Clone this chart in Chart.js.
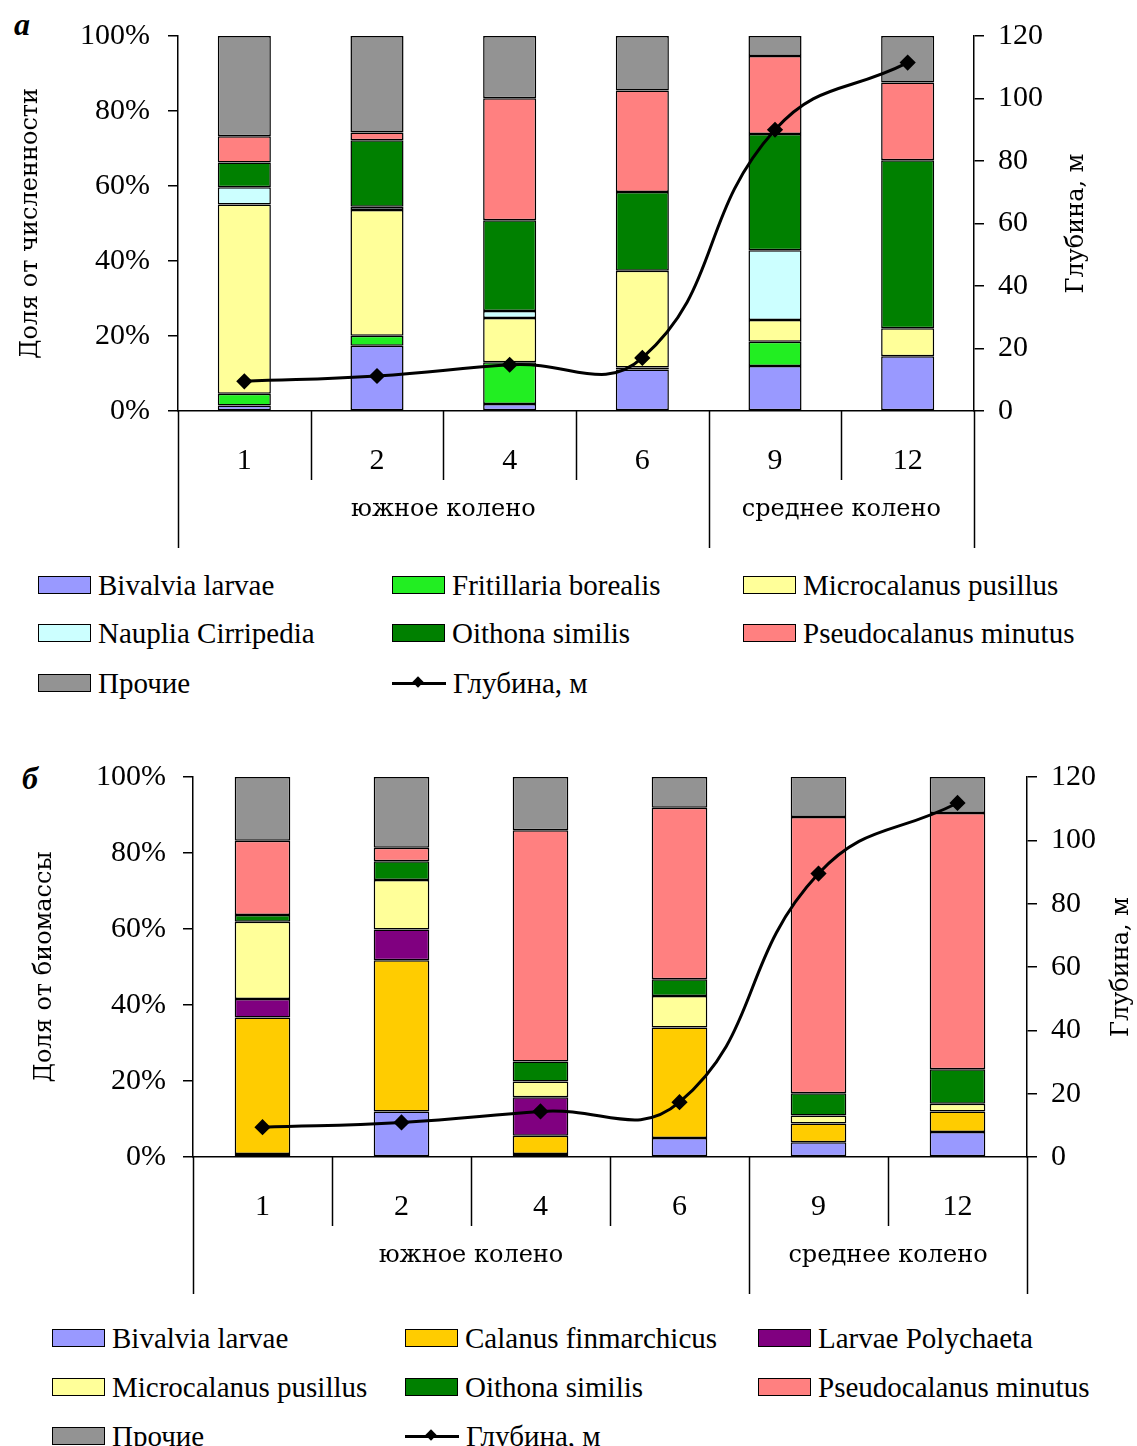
<!DOCTYPE html>
<html>
<head>
<meta charset="utf-8">
<script src="https://cdn.jsdelivr.net/npm/chart.js@4.4.1/dist/chart.umd.min.js"></script>
<style>
  html, body { margin: 0; padding: 0; background: #fff; }
  body { width: 1137px; height: 1446px; position: relative; overflow: hidden; font-family: "Liberation Serif", serif; }
  canvas { position: absolute; left: 0; }
  .panel { position: absolute; font: italic bold 32px "Liberation Serif", serif; color: #000; line-height: 1; }
  .leg { position: absolute; left: 0; top: 0; width: 1137px; height: 0; }
  .item { position: absolute; height: 30px; display: flex; align-items: center; white-space: nowrap;
          font: 29px "Liberation Serif", serif; color: #000; }
  .sw { width: 51px; height: 16px; border: 1.5px solid #000; margin-right: 7px; flex: none; }
  .ln { width: 54px; height: 16px; margin-right: 7px; position: relative; flex: none; }
  .ln::before { content: ""; position: absolute; left: 0; right: 0; top: 7px; height: 3px; background: #000; }
  .ln::after { content: ""; position: absolute; left: 22px; top: 3px; width: 8px; height: 8px; background: #000; transform: rotate(45deg); }
</style>
</head>
<body>
<div class="panel" style="left:14px;top:8px;">а</div>
<canvas id="c1" width="1137" height="560" style="top:0px"></canvas>
<div class="leg" id="lg1"></div>
<div class="panel" style="left:22px;top:762px;">б</div>
<canvas id="c2" width="1137" height="570" style="top:740px"></canvas>
<div class="leg" id="lg2"></div>
<script>
// ---------- DATA ----------
const stations = ['1', '2', '4', '6', '9', '12'];
const groupNames = ['южное колено', 'среднее колено'];
const groupSizes = [4, 2];
const pctTicks = [0, 20, 40, 60, 80, 100];
const depthTicks = [0, 20, 40, 60, 80, 100, 120];

// panel а: доля от численности, %
const bivalviaA      = [1.5, 17.4, 1.9, 11.1, 12.0, 14.6];
const fritillariaA   = [3.1, 2.7, 11.1, 0.5, 6.5, 0];
const microcalanusA  = [50.5, 33.5, 11.8, 25.8, 5.8, 7.5];
const naupliaA       = [4.6, 0.9, 1.9, 0, 18.6, 0];
const oithonaA       = [6.6, 17.7, 24.2, 21.0, 31.0, 44.8];
const pseudocalanusA = [7.0, 2.1, 32.5, 27.1, 20.8, 20.7];
const otherA         = [26.7, 25.7, 16.6, 14.5, 5.3, 12.4];
const depthA         = [9.5, 11.2, 14.8, 17.0, 90.0, 111.5];

// panel б: доля от биомассы, %
const bivalviaB      = [0.8, 12.0, 0.8, 5.0, 3.9, 6.6];
const calanusB       = [35.9, 39.8, 4.8, 29.1, 4.9, 5.4];
const polychaetaB    = [4.9, 8.1, 10.1, 0, 0, 0];
const microcalanusB  = [20.3, 13.0, 4.2, 8.3, 2.1, 2.0];
const oithonaB       = [1.8, 4.9, 5.2, 4.4, 5.9, 9.1];
const pseudocalanusB = [19.5, 3.6, 60.9, 45.1, 72.7, 67.4];
const otherB         = [16.8, 18.6, 14.0, 8.1, 10.6, 9.5];
const depthB         = [9.4, 10.9, 14.4, 17.3, 89.5, 111.8];

const depthLabel = 'Глубина, м';

// ---------- STYLES ----------
const C = {
  bivalvia: '#9999FF', fritillaria: '#22EE22', microcalanus: '#FFFF99', nauplia: '#CCFFFF',
  oithona: '#008000', pseudocalanus: '#FF8080', other: '#939393', calanus: '#FFCC00', polychaeta: '#800080'
};
const TITLE_FONT = '24px "DejaVu Serif", serif';

Chart.defaults.font.family = '"Liberation Serif", serif';
Chart.defaults.color = '#000';

function barDS(label, data, color) {
  return { type: 'bar', label, data, backgroundColor: color, borderColor: '#000', borderWidth: 1.5,
           borderSkipped: false, stack: 's', yAxisID: 'y', order: 1,
           barPercentage: 0.4, categoryPercentage: 1.0 };
}
function lineDS(data) {
  return { type: 'line', label: depthLabel, data, yAxisID: 'y1', borderColor: '#000', borderWidth: 3,
           tension: 0.45, pointStyle: 'rectRot', pointRadius: 6, pointBackgroundColor: '#000',
           pointBorderColor: '#000', fill: false, order: 0 };
}

function decorPlugin(L) {
  return {
    id: 'decor',
    afterDraw(chart) {
      const ctx = chart.ctx, x = chart.scales.x, a = chart.chartArea;
      const n = stations.length;
      const step = x.getPixelForValue(1) - x.getPixelForValue(0);
      const bounds = [];
      for (let i = 0; i < n; i++) bounds.push(x.getPixelForValue(i) - step / 2);
      bounds.push(x.getPixelForValue(n - 1) + step / 2);
      const groupEdges = [0];
      groupSizes.forEach(s => groupEdges.push(groupEdges[groupEdges.length - 1] + s));
      ctx.save();
      ctx.strokeStyle = '#000';
      ctx.lineWidth = 1.5;
      bounds.forEach((px, i) => {
        const long = groupEdges.includes(i);
        ctx.beginPath();
        ctx.moveTo(Math.round(px) + 0.5, a.bottom);
        ctx.lineTo(Math.round(px) + 0.5, a.bottom + (long ? 137 : 69));
        ctx.stroke();
      });
      ctx.fillStyle = '#000';
      ctx.textAlign = 'center';
      ctx.textBaseline = 'middle';
      ctx.font = TITLE_FONT;
      groupNames.forEach((g, k) => {
        const cx = (bounds[groupEdges[k]] + bounds[groupEdges[k + 1]]) / 2;
        ctx.fillText(g, cx, a.bottom + 99);
      });
      const cy = (a.top + a.bottom) / 2;
      [[L.leftTitleX, L.leftTitle], [L.rightTitleX, depthLabel]].forEach(([tx, t]) => {
        ctx.save();
        ctx.translate(tx, cy);
        ctx.rotate(-Math.PI / 2);
        ctx.fillText(t, 0, 0);
        ctx.restore();
      });
      ctx.restore();
    }
  };
}

function makeChart(id, datasets, L) {
  return new Chart(document.getElementById(id), {
    data: { labels: stations, datasets },
    options: {
      responsive: false, animation: false, devicePixelRatio: 1,
      layout: { padding: { top: L.padTop, left: 0, right: 0, bottom: 0 } },
      plugins: { legend: { display: false }, tooltip: { enabled: false } },
      scales: {
        x: {
          stacked: true,
          grid: { display: false, drawTicks: false, tickLength: 0 },
          border: { display: true, color: '#000', width: 1.5 },
          ticks: { font: { size: 30 }, padding: 32, color: '#000' },
          afterFit: s => { s.height = L.xHeight; }
        },
        y: {
          stacked: true, min: 0, max: 100, position: 'left',
          afterBuildTicks: s => { s.ticks = pctTicks.map(v => ({ value: v })); },
          grid: { drawOnChartArea: false, drawTicks: true, tickLength: 10, color: '#000', lineWidth: 1.5 },
          border: { display: true, color: '#000', width: 1.5 },
          ticks: { font: { size: 30 }, padding: L.leftPad, color: '#000', callback: v => v + '%' },
          afterFit: s => { s.width = L.leftW; }
        },
        y1: {
          stacked: false, min: 0, max: 120, position: 'right',
          afterBuildTicks: s => { s.ticks = depthTicks.map(v => ({ value: v })); },
          grid: { drawOnChartArea: false, drawTicks: true, tickLength: 10, color: '#000', lineWidth: 1.5 },
          border: { display: true, color: '#000', width: 1.5 },
          ticks: { font: { size: 30 }, padding: 14, color: '#000' },
          afterFit: s => { s.width = L.rightW; }
        }
      }
    },
    plugins: [decorPlugin(L)]
  });
}

function htmlLegend(chart, elId, cols, rows) {
  const el = document.getElementById(elId);
  const items = chart.data.datasets.filter(d => d.type === 'bar').concat(chart.data.datasets.filter(d => d.type === 'line'));
  items.forEach((d, i) => {
    const div = document.createElement('div');
    div.className = 'item';
    div.style.left = cols[i % 3] + 'px';
    div.style.top = (rows[Math.floor(i / 3)] - 15) + 'px';
    const sw = document.createElement('span');
    if (d.type === 'bar') { sw.className = 'sw'; sw.style.background = d.backgroundColor; }
    else sw.className = 'ln';
    div.appendChild(sw);
    div.appendChild(document.createTextNode(d.label));
    el.appendChild(div);
  });
}

const chartA = makeChart('c1', [
  lineDS(depthA),
  barDS('Bivalvia larvae', bivalviaA, C.bivalvia),
  barDS('Fritillaria borealis', fritillariaA, C.fritillaria),
  barDS('Microcalanus pusillus', microcalanusA, C.microcalanus),
  barDS('Nauplia Cirripedia', naupliaA, C.nauplia),
  barDS('Oithona similis', oithonaA, C.oithona),
  barDS('Pseudocalanus minutus', pseudocalanusA, C.pseudocalanus),
  barDS('Прочие', otherA, C.other)
], { padTop: 34, xHeight: 149, leftW: 178, rightW: 163, leftPad: 18,
     leftTitle: 'Доля от численности', leftTitleX: 31, rightTitleX: 1077 });

const chartB = makeChart('c2', [
  lineDS(depthB),
  barDS('Bivalvia larvae', bivalviaB, C.bivalvia),
  barDS('Calanus finmarchicus', calanusB, C.calanus),
  barDS('Larvae Polychaeta', polychaetaB, C.polychaeta),
  barDS('Microcalanus pusillus', microcalanusB, C.microcalanus),
  barDS('Oithona similis', oithonaB, C.oithona),
  barDS('Pseudocalanus minutus', pseudocalanusB, C.pseudocalanus),
  barDS('Прочие', otherB, C.other)
], { padTop: 37, xHeight: 153, leftW: 193, rightW: 110, leftPad: 17,
     leftTitle: 'Доля от биомассы', leftTitleX: 45, rightTitleX: 1122 });

htmlLegend(chartA, 'lg1', [38, 392, 743], [585, 633, 683]);
htmlLegend(chartB, 'lg2', [52, 405, 758], [1338, 1387, 1436]);
</script>
</body>
</html>
